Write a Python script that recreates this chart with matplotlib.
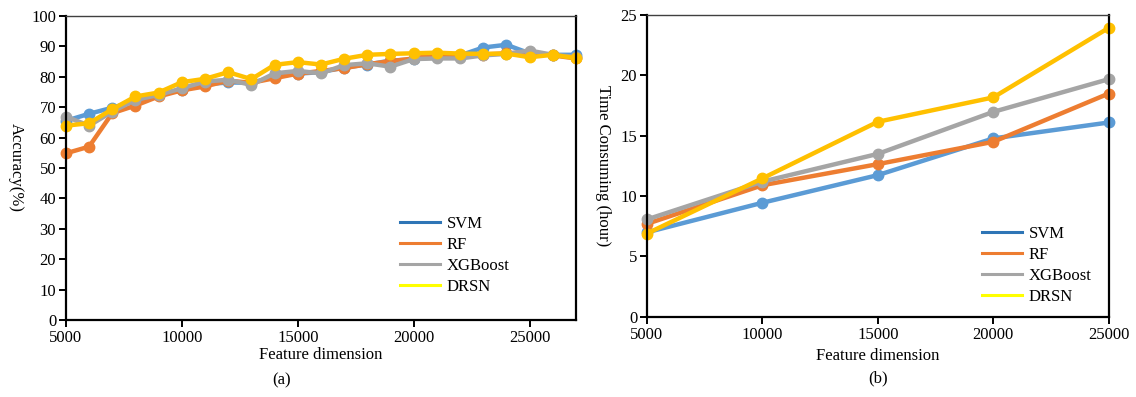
import matplotlib
matplotlib.use('Agg')
import matplotlib.pyplot as plt
from matplotlib.lines import Line2D

plt.rcParams['font.family'] = ['Liberation Serif', 'DejaVu Serif']
plt.rcParams['font.size'] = 12

# (a) accuracy vs feature dimension
dims_a = [5000, 6000, 7000, 8000, 9000, 10000, 11000, 12000, 13000, 14000, 15000, 16000,
          17000, 18000, 19000, 20000, 21000, 22000, 23000, 24000, 25000, 26000, 27000]
acc_svm = [65.5, 67.8, 69.8, 72.0, 74.0, 75.7, 77.5, 78.1, 78.0, 80.0, 81.0, 81.5,
           83.0, 84.0, 85.3, 85.7, 86.5, 87.0, 89.6, 90.5, 87.7, 87.2, 87.2]
acc_rf = [54.8, 57.0, 68.0, 70.5, 73.5, 75.5, 76.8, 78.7, 78.0, 79.5, 81.0, 81.9,
          82.8, 84.1, 85.1, 86.0, 87.2, 87.0, 87.3, 87.7, 88.0, 87.0, 86.0]
acc_xgb = [66.9, 63.9, 68.5, 72.4, 74.0, 76.2, 78.4, 79.0, 77.3, 81.1, 81.9, 81.1,
           83.8, 84.4, 83.3, 85.8, 86.0, 86.0, 87.0, 87.5, 88.6, 87.2, 86.5]
acc_drsn = [63.9, 64.7, 69.3, 73.5, 74.8, 78.2, 79.3, 81.5, 79.2, 83.9, 84.8, 84.0,
            85.9, 87.2, 87.5, 87.7, 87.9, 87.6, 87.5, 87.6, 86.4, 87.2, 86.1]

# (b) time consumed vs feature dimension
dims_b = [5000, 10000, 15000, 20000, 25000]
time_svm = [7.0, 9.45, 11.74, 14.78, 16.1]
time_rf = [7.7, 10.9, 12.65, 14.5, 18.5]
time_xgb = [8.07, 11.2, 13.5, 16.98, 19.69]
time_drsn = [6.9, 11.47, 16.16, 18.18, 23.94]

names = ['SVM', 'RF', 'XGBoost', 'DRSN']
line_colors = ['#5B9BD5', '#ED7D31', '#A5A5A5', '#FFC000']
legend_colors = ['#2E75B6', '#ED7D31', '#A5A5A5', '#FFFF00']

fig = plt.figure(figsize=(11.36, 3.97), dpi=100)
ax1 = fig.add_axes([0.058, 0.194, 0.449, 0.766])
ax2 = fig.add_axes([0.5695, 0.202, 0.4065, 0.760])


def style(ax):
    for side in ['left', 'bottom', 'right']:
        ax.spines[side].set_linewidth(1.6)
        ax.spines[side].set_color('black')
    ax.spines['top'].set_linewidth(1.0)
    ax.spines['top'].set_color('#404040')
    ax.tick_params(axis='both', direction='out', length=5, width=1.4, labelsize=12, pad=2)
    ax.tick_params(top=False, right=False)


for ys, c in zip([acc_svm, acc_rf, acc_xgb, acc_drsn], line_colors):
    ax1.plot(dims_a, ys, color=c, lw=3.2, marker='o', ms=7.5, clip_on=False)
ax1.set_xlim(5000, 27000)
ax1.set_ylim(0, 100)
ax1.set_xticks([5000, 10000, 15000, 20000, 25000])
ax1.set_yticks(range(0, 101, 10))
ax1.set_xlabel('Feature dimension', fontsize=12, labelpad=1)
ax1.set_ylabel('Accuracy(%)', fontsize=12, rotation=270, labelpad=17)
style(ax1)

for ys, c in zip([time_svm, time_rf, time_xgb, time_drsn], line_colors):
    ax2.plot(dims_b, ys, color=c, lw=3.2, marker='o', ms=7.5, clip_on=False)
ax2.set_xlim(5000, 25000)
ax2.set_ylim(0, 25)
ax2.set_xticks([5000, 10000, 15000, 20000, 25000])
ax2.set_yticks(range(0, 26, 5))
ax2.set_xlabel('Feature dimension', fontsize=12, labelpad=4)
ax2.set_ylabel('Time Consuming (hour)', fontsize=12, rotation=270, labelpad=18)
style(ax2)

handles = [Line2D([], [], color=c, lw=2.2) for c in legend_colors]
fig.legend(handles, names, loc='upper left', bbox_to_anchor=(400 / 1136, 1 - 216 / 397),
           frameon=False, fontsize=12, handlelength=2.4, handletextpad=0.4,
           labelspacing=0.3, borderpad=0, borderaxespad=0)
fig.legend(handles, names, loc='upper left', bbox_to_anchor=(982 / 1136, 1 - 226 / 397),
           frameon=False, fontsize=12, handlelength=2.4, handletextpad=0.4,
           labelspacing=0.3, borderpad=0, borderaxespad=0)

fig.text(0.2475, 0.022, '(a)', ha='center', va='bottom', fontsize=12)
fig.text(0.773, 0.027, '(b)', ha='center', va='bottom', fontsize=12)

fig.savefig('out.png', dpi=100)
